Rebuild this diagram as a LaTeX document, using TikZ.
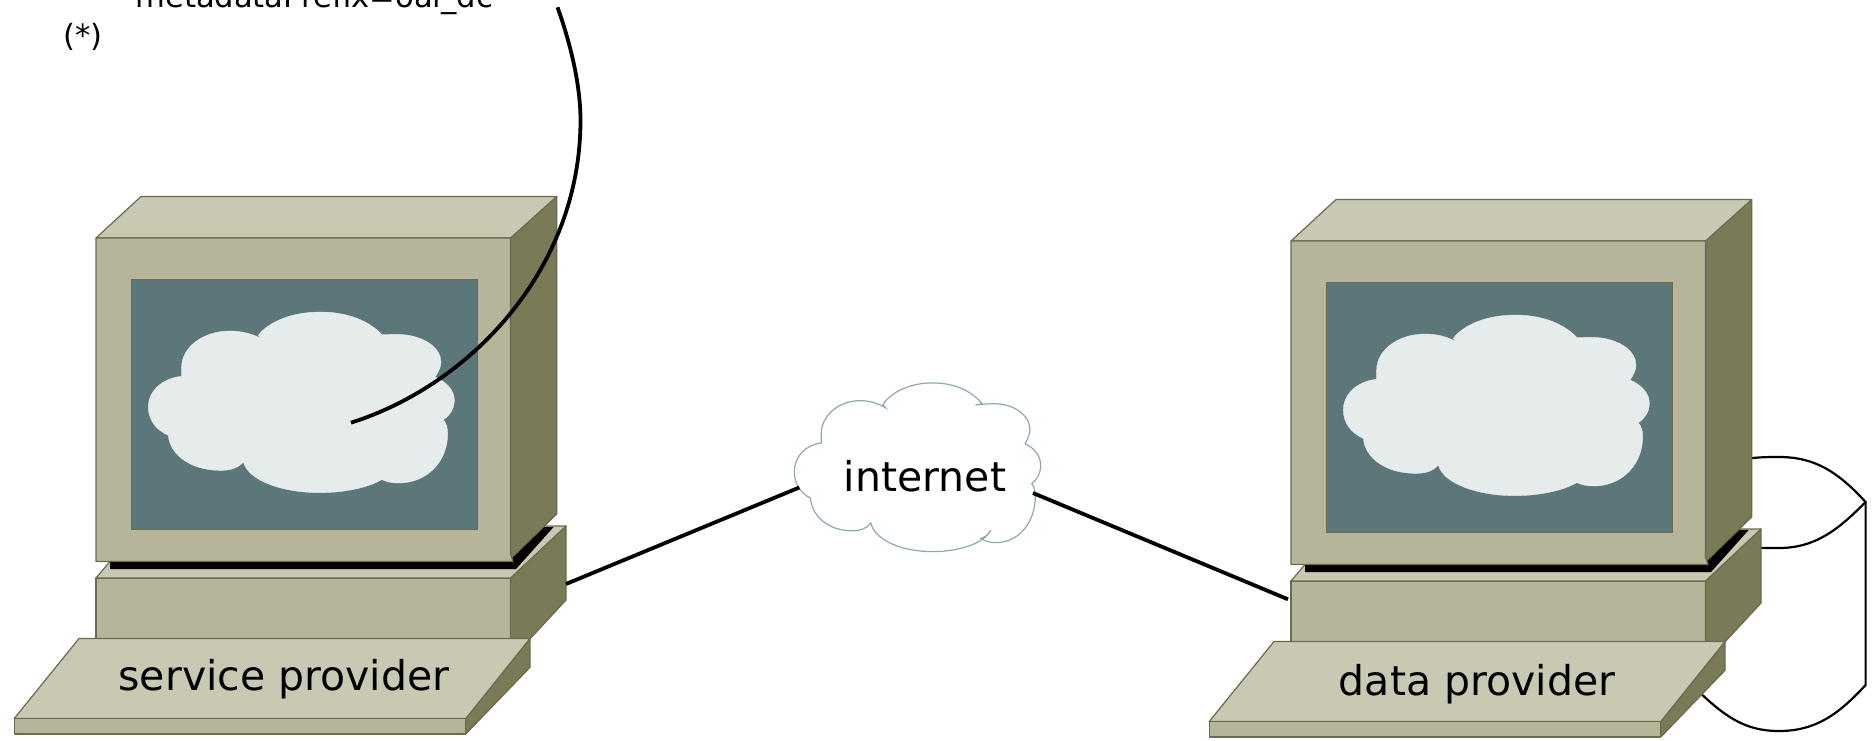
\documentclass[tikz,border=0pt]{standalone}
\usepackage{fontspec}
\setmainfont{DejaVu Sans}
\definecolor{cfront}{HTML}{B6B59A}
\definecolor{ctop}{HTML}{C9C8B3}
\definecolor{cside}{HTML}{7B7A57}
\definecolor{cedge}{HTML}{6A6A50}
\definecolor{cscreen}{HTML}{5C777A}
\definecolor{ccloud}{HTML}{E6EBEB}
\definecolor{cnet}{HTML}{8FA9AB}
\tikzset{
  front/.style={fill=cfront,draw=cedge,line width=0.6pt,line join=round},
  topf/.style={fill=ctop,draw=cedge,line width=0.6pt,line join=round},
  sidef/.style={fill=cside,draw=cedge,line width=0.6pt,line join=round},
  screenf/.style={fill=cscreen,draw=cedge,line width=0.5pt},
  bigtext/.style={font=\fontsize{20.5}{24}\selectfont,anchor=base,inner sep=0pt,text=black},
  smalltext/.style={font=\fontsize{15.3}{18}\selectfont,anchor=base west,inner sep=0pt,text=black},
  wire/.style={draw=black,line width=1.9pt},
  thinwire/.style={draw=black,line width=1.1pt}
}
\newcommand{\cloudshape}{
  (320,598) .. controls (265,603) and (220,640) .. (220,690)
  .. controls (220,730) and (245,760) .. (280,775)
  .. controls (285,835) and (350,880) .. (435,880)
  .. controls (460,880) and (485,877) .. (505,855)
  .. controls (520,910) and (620,947) .. (735,947)
  .. controls (820,947) and (925,925) .. (952,878)
  .. controls (940,895) and (930,900) .. (915,905)
  .. controls (935,915) and (950,918) .. (970,918)
  .. controls (1060,918) and (1118,850) .. (1118,770)
  .. controls (1118,755) and (1115,740) .. (1105,728)
  .. controls (1125,715) and (1138,695) .. (1138,670)
  .. controls (1138,640) and (1115,615) .. (1080,600)
  .. controls (1090,585) and (1098,570) .. (1098,555)
  .. controls (1098,510) and (1040,472) .. (965,472)
  .. controls (940,472) and (915,473) .. (895,476)
  .. controls (905,474) and (912,473) .. (920,472)
  .. controls (880,430) and (815,405) .. (735,405)
  .. controls (650,405) and (580,435) .. (550,475)
  .. controls (553,478) and (557,482) .. (560,485)
  .. controls (530,470) and (500,462) .. (465,462)
  .. controls (385,462) and (320,510) .. (320,570)
  .. controls (320,580) and (320,590) .. (320,598) -- cycle
}
\newcommand{\computer}[2]{
\begin{scope}[shift={(#1,#2)}]
  % stand
  \draw[front] (96,578) rectangle (510.5,680);
  \draw[sidef] (510.5,578) -- (566,526) -- (566,600) -- (510.5,660) -- cycle;
  \draw[topf] (96,578) -- (140,526) -- (566,526) -- (510.5,578) -- cycle;
  \fill[black] (110,569) -- (516,569) -- (553.6,527) -- (540,527) -- (510,555) -- (110,555) -- cycle;
  % monitor
  \draw[sidef] (510.5,238) -- (556.7,196.5) -- (556.7,514) -- (510.5,559) -- cycle;
  \draw[topf] (96,238) -- (141,196.5) -- (556.7,196.5) -- (510.5,238) -- cycle;
  \draw[front] (96,238) -- (510.5,238) -- (510.5,554) -- (513,561.5) -- (96,561.5) -- cycle;
  \draw[screenf] (131.5,279.5) rectangle (477.7,529);
  \begin{scope}[shift={(0,177)}]
    \begin{scope}[shift={(75,0)},x=0.16667pt,y=-0.16667pt]
      \draw[ccloud,fill=ccloud,line width=0.2pt] \cloudshape;
    \end{scope}
  \end{scope}
  % keyboard
  \draw[sidef] (465.8,718.5) -- (530,638.5) -- (530,667.3) -- (465.8,734) -- cycle;
  \draw[topf] (14.2,718.5) -- (79,638.5) -- (530,638.5) -- (465.8,718.5) -- cycle;
  \draw[front] (14.2,718.5) rectangle (465.8,734);
\end{scope}
}
\begin{document}
\begin{tikzpicture}[x=0.5pt,y=-0.5pt]
\useasboundingbox (0,0) rectangle (1875,740);
\clip (0,0) rectangle (1875,740);
\fill[white] (0,0) rectangle (1875,740);

% named connector ends
\coordinate (spbase) at (566,584);
\coordinate (netleft) at (799.3,487.5);
\coordinate (netright) at (1033,493);
\coordinate (dpbase) at (1288,599.3);
\coordinate (curvetop) at (557.5,7.3);
\coordinate (curvemid) at (580.5,120);
\coordinate (curveend) at (351,422.7);
\coordinate (dbtopl) at (1740,460);
\coordinate (dbtopm) at (1779,457);
\coordinate (dbright) at (1865.6,502);
\coordinate (dbinm) at (1779,548);
\coordinate (dbinl) at (1745,547);
\coordinate (dbrightb) at (1865.6,685);
\coordinate (dbbotm) at (1779,731);
\coordinate (dbbotl) at (1695,688);

% database cylinder behind the data provider
\draw[thinwire] (dbtopl) .. controls (1755,457) and (1767,457) .. (dbtopm)
  .. controls (1815,457) and (1838,472) .. (dbright)
  .. controls (1838,530) and (1815,548) .. (dbinm)
  .. controls (1767,548) and (1757,548) .. (dbinl);
\draw[thinwire] (dbright) -- (dbrightb)
  .. controls (1838,715) and (1815,731) .. (dbbotm)
  .. controls (1745,731) and (1725,717) .. (dbbotl);

\computer{0}{0}
\computer{1195}{3}

% internet cloud
\begin{scope}[shift={(735.3,256.8)}]
  \begin{scope}[x=0.13417pt,y=-0.15567pt]
    \draw[cnet,fill=white,line width=0.6pt] \cloudshape;
  \end{scope}
\end{scope}

% connectors
\draw[wire] (spbase) -- (netleft);
\draw[wire] (netright) -- (dpbase);
\draw[wire] (curvetop) .. controls (570,42) and (580.5,84) .. (curvemid)
  .. controls (580.5,270) and (470,385) .. (curveend);

% labels
\node[bigtext] (sp) at (284,690) {service provider};
\node[bigtext] (dp) at (1477,695) {data provider};
\node[bigtext] (net) at (925,491) {internet};
\node[smalltext] (meta) at (135,7) {metadataPrefix=oai\_dc};
\node[smalltext] (star) at (63,46) {(*)};
\end{tikzpicture}
\end{document}
